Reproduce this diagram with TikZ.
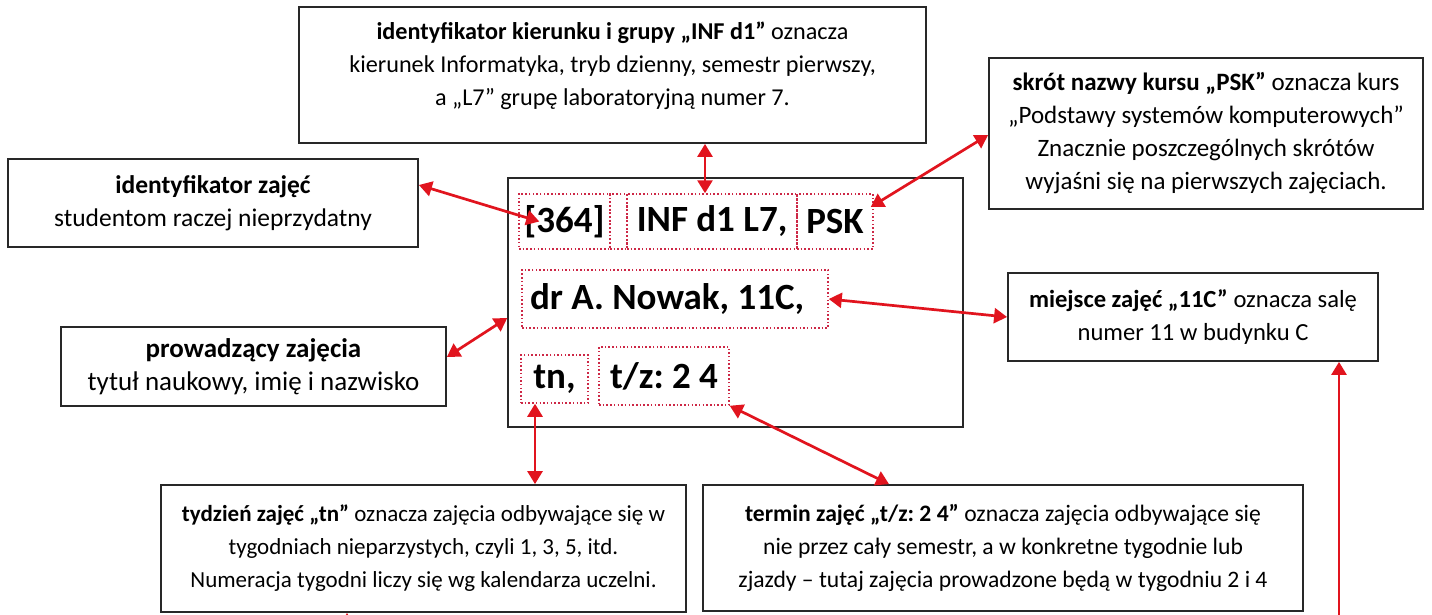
\documentclass[tikz,border=0pt]{standalone}
\usepackage{fontspec}
\setmainfont{Carlito}
\usetikzlibrary{arrows.meta}
\definecolor{arrc}{RGB}{225,20,30}
\definecolor{dotc}{RGB}{205,40,70}
\definecolor{boxc}{RGB}{40,40,40}
\newcommand\lf[1]{\fontsize{#1}{33}\selectfont\frenchspacing}
\newcommand\bigfont{\fontsize{37}{40}\selectfont\bfseries\frenchspacing}
\tikzset{
  box/.style={draw=boxc, line width=1.8pt, fill=white, align=center, inner sep=0pt},
  dotbox/.style={draw=dotc, line width=1.5pt, dash pattern=on 1.5pt off 2.2pt, inner sep=0pt, font=\bigfont},
  arr/.style={draw=arrc, line width=2.7pt, {Triangle[length=13pt,width=15pt]}-{Triangle[length=13pt,width=15pt]}},
  arrs/.style={draw=arrc, line width=2.7pt, -{Triangle[length=13pt,width=15pt]}}
}
\begin{document}
\begin{tikzpicture}[x=1pt,y=-1pt]
\fill[white] (0,0) rectangle (1432,614);
\useasboundingbox (0,0) rectangle (1432,614);
\clip (0,0) rectangle (1432,614);

% label boxes
\node[box, minimum width=627pt, minimum height=136pt] (tb) at (612.5,75) {};
\node[align=center, font={\lf{24.2}}, inner sep=0pt] (tbt) at (612.5,66)
  {\textbf{identyfikator kierunku i grupy „INF d1”} oznacza\\
   kierunek Informatyka, tryb dzienny, semestr pierwszy,\\
   a „L7” grupę laboratoryjną numer 7.};
\node[box, font={\lf{25.5}}, minimum width=410pt, minimum height=88pt] (idz) at (213,203)
  {\textbf{identyfikator zajęć}\\ studentom raczej nieprzydatny};
\node[box, font={\lf{27}}, minimum width=385pt, minimum height=79pt] (prow) at (253.5,366.5)
  {\textbf{prowadzący zajęcia}\\ tytuł naukowy, imię i nazwisko};
\node[box, font={\lf{25}}, minimum width=434pt, minimum height=151pt] (sk) at (1206,133.5)
  {\textbf{skrót nazwy kursu „PSK”} oznacza kurs\\
   „Podstawy systemów komputerowych”\\
   Znacznie poszczególnych skrótów\\
   wyjaśni się na pierwszych zajęciach.};
\node[box, font={\lf{24.6}}, minimum width=370pt, minimum height=88pt] (mj) at (1193,317)
  {\textbf{miejsce zajęć „11C”} oznacza salę\\ numer 11 w budynku C};
\node[box, font={\lf{23}}, minimum width=525pt, minimum height=127pt] (ty) at (423.5,548.5)
  {\textbf{tydzień zajęć „tn”} oznacza zajęcia odbywające się w\\
   tygodniach nieparzystych, czyli 1, 3, 5, itd.\\
   Numeracja tygodni liczy się wg kalendarza uczelni.};
\node[box, font={\lf{23.6}}, minimum width=600pt, minimum height=126pt] (te) at (1003,548)
  {\textbf{termin zajęć „t/z: 2 4”} oznacza zajęcia odbywające się\\
   nie przez cały semestr, a w konkretne tygodnie lub\\
   zjazdy – tutaj zajęcia prowadzone będą w tygodniu 2 i 4};

% central box
\node[draw=boxc, line width=1.5pt, minimum width=455pt, minimum height=249pt, inner sep=0pt] (cb) at (735.5,302.5) {};
\node[dotbox, minimum width=91pt, minimum height=55pt] (d1) at (564.5,221.5) {[364]};
\node[dotbox, minimum width=17pt, minimum height=55pt] (d2) at (618.5,221.5) {};
\node[dotbox, minimum width=170pt, minimum height=55pt] (d3) at (712,221.5) {INF d1 L7,};
\node[dotbox, minimum width=76pt, minimum height=55pt] (d4) at (835,221.5) {PSK};
\node[dotbox, inner xsep=8pt, minimum height=58pt] (r2) at (675,299) {\makebox[290pt][l]{dr A. Nowak, 11C,}};
\node[dotbox, minimum width=67pt, minimum height=48pt] (tn) at (554.5,379) {tn,};
\node[dotbox, minimum width=130pt, minimum height=58pt] (tz) at (664,376) {t/z: 2 4};

% connectors
\draw[arr] ([yshift=18pt]idz.east) -- ([xshift=21pt]d1.west);
\coordinate (a2) at ([xshift=-7pt]d3.north);
\draw[arr] (a2) -- (a2 |- tb.south);
\draw[arr] ([yshift=-1.5pt]sk.west) -- ([xshift=-3pt,yshift=14.5pt]d4.east);
\draw[arr] (mj.west) -- (r2.east);
\draw[arr] ([yshift=9.5pt]prow.east) -- ([yshift=-15.5pt]cb.west);
\coordinate (a6) at ([xshift=-19.5pt]tn.south);
\draw[arr] (a6) -- (a6 |- ty.north);
\draw[arr] (tz.south east) -- ([xshift=-114pt]te.north);
\coordinate (e8) at (1339,680);
\draw[arrs] (e8) -- (e8 |- mj.south);
\coordinate (e9) at (347,680);
\draw[arrs] (e9) -- (e9 |- ty.south);
\end{tikzpicture}
\end{document}
